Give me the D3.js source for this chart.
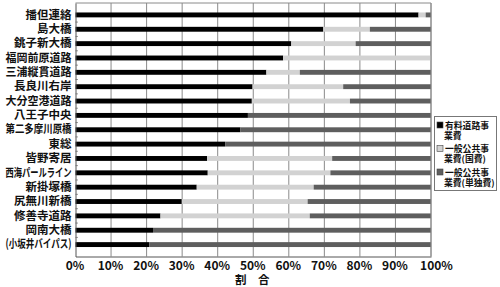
<!DOCTYPE html>
<html>
<head>
<meta charset="utf-8">
<script src="https://cdn.jsdelivr.net/npm/d3@7"></script>
<style>
  body { margin: 0; background: #fff; }
  svg { display: block; }
  text { font-family: "Noto Sans CJK JP", "Liberation Sans", sans-serif; font-weight: bold; fill: #111; }
</style>
</head>
<body>
<svg id="chart" width="500" height="287"></svg>
<script>
const categories = ['播但連絡', '島大橋', '銚子新大橋', '福岡前原道路', '三浦縦貫道路', '長良川右岸', '大分空港道路',
  '八王子中央', '第二多摩川原橋', '東総', '皆野寄居', '西海パールライン', '新掛塚橋', '尻無川新橋',
  '修善寺道路', '岡南大橋', '(小坂井バイパス)'];
const tollRoad = [96.5, 69.7, 60.7, 58.4, 53.7, 49.8, 49.6, 48.5, 46.4, 42.1, 37.0, 37.2, 34.1, 29.9, 23.9, 21.8, 20.8];
const national = [2.0, 13.1, 18.1, 41.6, 9.4, 25.5, 27.6, 0, 0, 0, 35.2, 34.5, 32.9, 35.4, 42.0, 0, 0];
const local = [1.5, 17.2, 21.2, 0, 36.9, 24.7, 22.8, 51.5, 53.6, 57.9, 27.8, 28.3, 33.0, 34.7, 34.1, 78.2, 79.2];
const xTicks = [0, 10, 20, 30, 40, 50, 60, 70, 80, 90, 100];
const legendLines = [['有料道路事', '業費'], ['一般公共事', '業費(国費)'], ['一般公共事', '業費(単独費)']];
const axisTitle = '割　合';

const keys = ['tollRoad', 'national', 'local'];
const plotLeft = 75.5, plotRight = 431, plotTop = 3, plotBottom = 256.5;

const rows = categories.map((c, i) => ({
  name: c, tollRoad: tollRoad[i], national: national[i], local: local[i]
}));

const color = d3.scaleOrdinal().domain(keys).range(['#000000', '#d2d2d2', '#5e5e5e']);

const x = d3.scaleLinear().domain([0, 100]).range([plotLeft, plotRight]);
const y = d3.scaleBand().domain(categories).range([plotTop, plotBottom]).padding(0.66);

const svg = d3.select('#chart');

// vertical grid
svg.append('g')
  .selectAll('line')
  .data(xTicks.slice(1))
  .enter().append('line')
    .attr('x1', d => x(d)).attr('x2', d => x(d))
    .attr('y1', plotTop).attr('y2', plotBottom)
    .attr('stroke', '#8a8a8a')
    .attr('stroke-width', 1);

// top border
svg.append('line')
  .attr('x1', plotLeft).attr('x2', plotRight)
  .attr('y1', plotTop).attr('y2', plotTop)
  .attr('stroke', '#8a8a8a');

// bars
const stacked = d3.stack().keys(keys)(rows);
svg.append('g')
  .selectAll('g')
  .data(stacked)
  .enter().append('g')
    .attr('fill', d => color(d.key))
    .selectAll('rect')
    .data(d => d)
    .enter().append('rect')
      .attr('x', d => x(d[0]))
      .attr('y', d => y(d.data.name))
      .attr('width', d => x(d[1]) - x(d[0]))
      .attr('height', y.bandwidth());

// category boundary ticks
const gap = (y.step() - y.bandwidth()) / 2;
svg.append('g')
  .selectAll('line')
  .data(categories.slice(1))
  .enter().append('line')
    .attr('x1', plotLeft).attr('x2', plotLeft + 2.5)
    .attr('y1', d => y(d) - gap)
    .attr('y2', d => y(d) - gap)
    .attr('stroke', '#999');

// left axis with category labels
const yAxis = svg.append('g')
  .attr('transform', `translate(${plotLeft},0)`)
  .call(d3.axisLeft(y).tickSize(0).tickPadding(4));
yAxis.select('.domain').attr('stroke', '#555');
yAxis.selectAll('text')
  .style('font-size', '11.5px')
  .attr('fill', '#111')
  .each(function () {
    const len = this.getComputedTextLength();
    if (len > 66) {
      d3.select(this).attr('textLength', 66).attr('lengthAdjust', 'spacingAndGlyphs');
    }
  });

// bottom axis
const xAxis = svg.append('g')
  .attr('transform', `translate(0,${plotBottom})`)
  .call(d3.axisBottom(x).tickValues(xTicks).tickSize(0).tickPadding(5).tickFormat(d => d + '%'));
xAxis.select('.domain').attr('stroke', '#555');
xAxis.selectAll('text')
  .style('font-size', '12px')
  .attr('fill', '#111')
  .attr('dx', d => d === 100 ? 5 : -1);

// right border
svg.append('line')
  .attr('x1', plotRight).attr('x2', plotRight)
  .attr('y1', plotTop).attr('y2', plotBottom)
  .attr('stroke', '#8a8a8a');

// axis title
svg.append('text')
  .attr('x', (plotLeft + plotRight) / 2 - 1)
  .attr('y', 284)
  .attr('text-anchor', 'middle')
  .style('font-size', '11.5px')
  .text(axisTitle);

// legend
const legend = svg.append('g');
legend.append('rect')
  .attr('x', 434.5).attr('y', 116.5)
  .attr('width', 62).attr('height', 74)
  .attr('fill', '#fff')
  .attr('stroke', '#777');

const item = legend.selectAll('g.item')
  .data(keys)
  .enter().append('g')
    .attr('class', 'item')
    .attr('transform', (d, i) => `translate(437,${125 + i * 23.5})`);

item.append('rect')
  .attr('x', 0).attr('y', -3)
  .attr('width', 6).attr('height', 6)
  .attr('fill', d => color(d))
  .attr('stroke', '#444')
  .attr('stroke-width', 0.6);

item.each(function (d, i) {
  d3.select(this).selectAll('text')
    .data(legendLines[i])
    .enter().append('text')
      .attr('x', (t, j) => j === 0 ? 8 : 7)
      .attr('y', (t, j) => j * 10 + 3.5)
      .style('font-size', '8.8px')
      .text(t => t);
});
</script>
</body>
</html>
